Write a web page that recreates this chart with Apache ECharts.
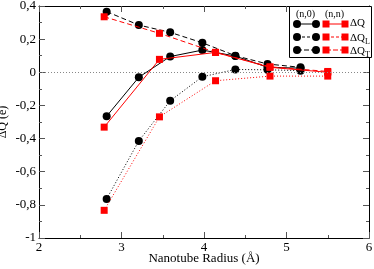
<!DOCTYPE html>
<html><head><meta charset="utf-8">
<script src="https://cdn.jsdelivr.net/npm/echarts@6/dist/echarts.min.js"></script>
<style>html,body{margin:0;padding:0;background:#fff}#c{width:374px;height:269px}</style>
</head><body><div id="c"></div>
<script>
// (n,0) tubes
var radiusN0 = [2.82, 3.21, 3.59, 3.98, 4.38, 4.77, 5.17];
var dQ_n0  = [-0.265, -0.03, 0.095, 0.134, 0.098, 0.03, 0.025];
var dQL_n0 = [-0.764, -0.414, -0.172, -0.027, 0.017, 0.015, 0.01];
var dQT_n0 = [0.366, 0.285, 0.241, 0.178, 0.10, 0.05, 0.03];
// (n,n) tubes
var radiusNN = [2.79, 3.46, 4.14, 4.80, 5.50];
var dQ_nn  = [-0.331, 0.078, 0.12, 0.03, 0.0];
var dQL_nn = [-0.833, -0.269, -0.051, -0.023, -0.023];
var dQT_nn = [0.335, 0.235, 0.12, 0.033, 0.005];

var xTicks = [2, 3, 4, 5, 6];
var yTicks = [-1, -0.8, -0.6, -0.4, -0.2, 0, 0.2, 0.4];

function pairs(xs, ys){ return xs.map(function(x,i){ return [x, ys[i]]; }); }
var F = 'Liberation Serif';
function mk(name, xs, ys, color, type, symbol, size){
  return { name: name, type: 'line', data: pairs(xs, ys), symbol: symbol, symbolSize: size,
    lineStyle: { color: color, width: 1, type: type }, itemStyle: { color: color },
    z: color === '#000' ? 3 : 4, animation: false };
}
var axisBase = { min: 2, max: 6, interval: 1 };
var chart = echarts.init(document.getElementById('c'));
var series = [
  mk('ΔQ_T (n,0)', radiusN0, dQT_n0, '#000', [5,3], 'circle', 8),
  mk('ΔQ_L (n,0)', radiusN0, dQL_n0, '#000', [1,2], 'circle', 8),
  mk('ΔQ (n,0)', radiusN0, dQ_n0, '#000', 'solid', 'circle', 8),
  mk('ΔQ_T (n,n)', radiusNN, dQT_nn, '#ff0000', [5,3], 'rect', 7),
  mk('ΔQ_L (n,n)', radiusNN, dQL_nn, '#ff0000', [1,2], 'rect', 7),
  mk('ΔQ (n,n)', radiusNN, dQ_nn, '#ff0000', 'solid', 'rect', 7)
];
series[0].markLine = { silent: true, symbol: 'none', label: { show: false },
  lineStyle: { color: '#888', type: [1,2], width: 1 }, data: [{ yAxis: 0 }], animation: false };

var lx = 297, rx = 326;
var rowsY = [24, 37, 50];
var rowTypes = ['solid', [3,2], [5,2]];
var gfx = [
  { type: 'rect', shape: { x: 289.5, y: 6.5, width: 82, height: 51 }, style: { fill: '#fff', stroke: '#000', lineWidth: 1 }, z: 10 },
  { type: 'text', x: 296, y: 9, style: { text: '(n,0)', font: '10px "Liberation Serif"', fill: '#000' }, z: 11 },
  { type: 'text', x: 325, y: 9, style: { text: '(n,n)', font: '10px "Liberation Serif"', fill: '#000' }, z: 11 }
];
var labels = ['ΔQ', '{a|ΔQ}{s|L}', '{a|ΔQ}{s|T}'];
rowsY.forEach(function(y, i){
  gfx.push({ type: 'line', shape: { x1: lx, y1: y, x2: lx+19, y2: y }, style: { stroke: '#000', lineWidth: 1, lineDash: i===0?null:rowTypes[i] }, z: 11 });
  gfx.push({ type: 'circle', shape: { cx: lx, cy: y, r: 4 }, style: { fill: '#000' }, z: 12 });
  gfx.push({ type: 'circle', shape: { cx: lx+19, cy: y, r: 4 }, style: { fill: '#000' }, z: 12 });
  gfx.push({ type: 'line', shape: { x1: rx, y1: y, x2: rx+19, y2: y }, style: { stroke: '#ff0000', lineWidth: 1, lineDash: i===0?null:rowTypes[i] }, z: 11 });
  gfx.push({ type: 'rect', shape: { x: rx-3.5, y: y-3.5, width: 7, height: 7 }, style: { fill: '#ff0000' }, z: 12 });
  gfx.push({ type: 'rect', shape: { x: rx+15.5, y: y-3.5, width: 7, height: 7 }, style: { fill: '#ff0000' }, z: 12 });
  gfx.push({ type: 'text', x: 350, y: y-6, style: { text: labels[i], fill: '#000',
    rich: { a: { fontFamily: F, fontSize: 11 }, s: { fontFamily: F, fontSize: 8, padding: [7,0,0,0] } },
    font: '11px "Liberation Serif"' }, z: 11 });
});

chart.setOption({
  animation: false,
  grid: { left: 39, right: 5, top: 6, bottom: 31, outerBoundsMode: 'none', containLabel: false },
  xAxis: [
    Object.assign({ type: 'value', position: 'bottom',
      name: 'Nanotube Radius (Å)', nameLocation: 'middle', nameGap: 14, nameMoveOverlap: false,
      nameTextStyle: { fontFamily: F, fontSize: 13, color: '#000', verticalAlign: 'top' },
      axisLine: { onZero: false, lineStyle: { color: '#000', width: 1 } },
      axisTick: { inside: true, length: 6, lineStyle: { color: '#555' } },
      minorTick: { show: true, splitNumber: 2, length: 3, lineStyle: { color: '#555' } },
      axisLabel: { fontFamily: F, fontSize: 13, color: '#000', margin: 3,
        formatter: function(v){ return xTicks.indexOf(v) >= 0 ? String(v) : ''; } },
      splitLine: { show: false } }, axisBase),
    Object.assign({ type: 'value', position: 'top',
      axisLine: { onZero: false, lineStyle: { color: '#000', width: 1 } },
      axisTick: { inside: true, length: 6, lineStyle: { color: '#555' } },
      minorTick: { show: true, splitNumber: 2, length: 3, lineStyle: { color: '#555' } },
      axisLabel: { show: false }, splitLine: { show: false } }, axisBase)
  ],
  yAxis: [
    { type: 'value', min: -1, max: 0.4, interval: 0.2, position: 'left',
      name: 'ΔQ (e)', nameLocation: 'middle', nameGap: 30, nameMoveOverlap: false,
      nameTextStyle: { fontFamily: F, fontSize: 12, color: '#000' },
      axisLine: { onZero: false, lineStyle: { color: '#000', width: 1 } },
      axisTick: { inside: true, length: 6, lineStyle: { color: '#555' } },
      minorTick: { show: true, splitNumber: 2, length: 3, lineStyle: { color: '#555' } },
      axisLabel: { fontFamily: F, fontSize: 13, color: '#000', margin: 3,
        formatter: function(v){ var r = Math.round(v*10)/10; return String(r).replace('.', ','); } },
      splitLine: { show: false } },
    { type: 'value', min: -1, max: 0.4, interval: 0.2, position: 'right',
      axisLine: { onZero: false, lineStyle: { color: '#000', width: 1 } },
      axisTick: { inside: true, length: 6, lineStyle: { color: '#555' } },
      minorTick: { show: true, splitNumber: 2, length: 3, lineStyle: { color: '#555' } },
      axisLabel: { show: false }, splitLine: { show: false } }
  ],
  series: series,
  graphic: gfx
});
</script></body></html>
